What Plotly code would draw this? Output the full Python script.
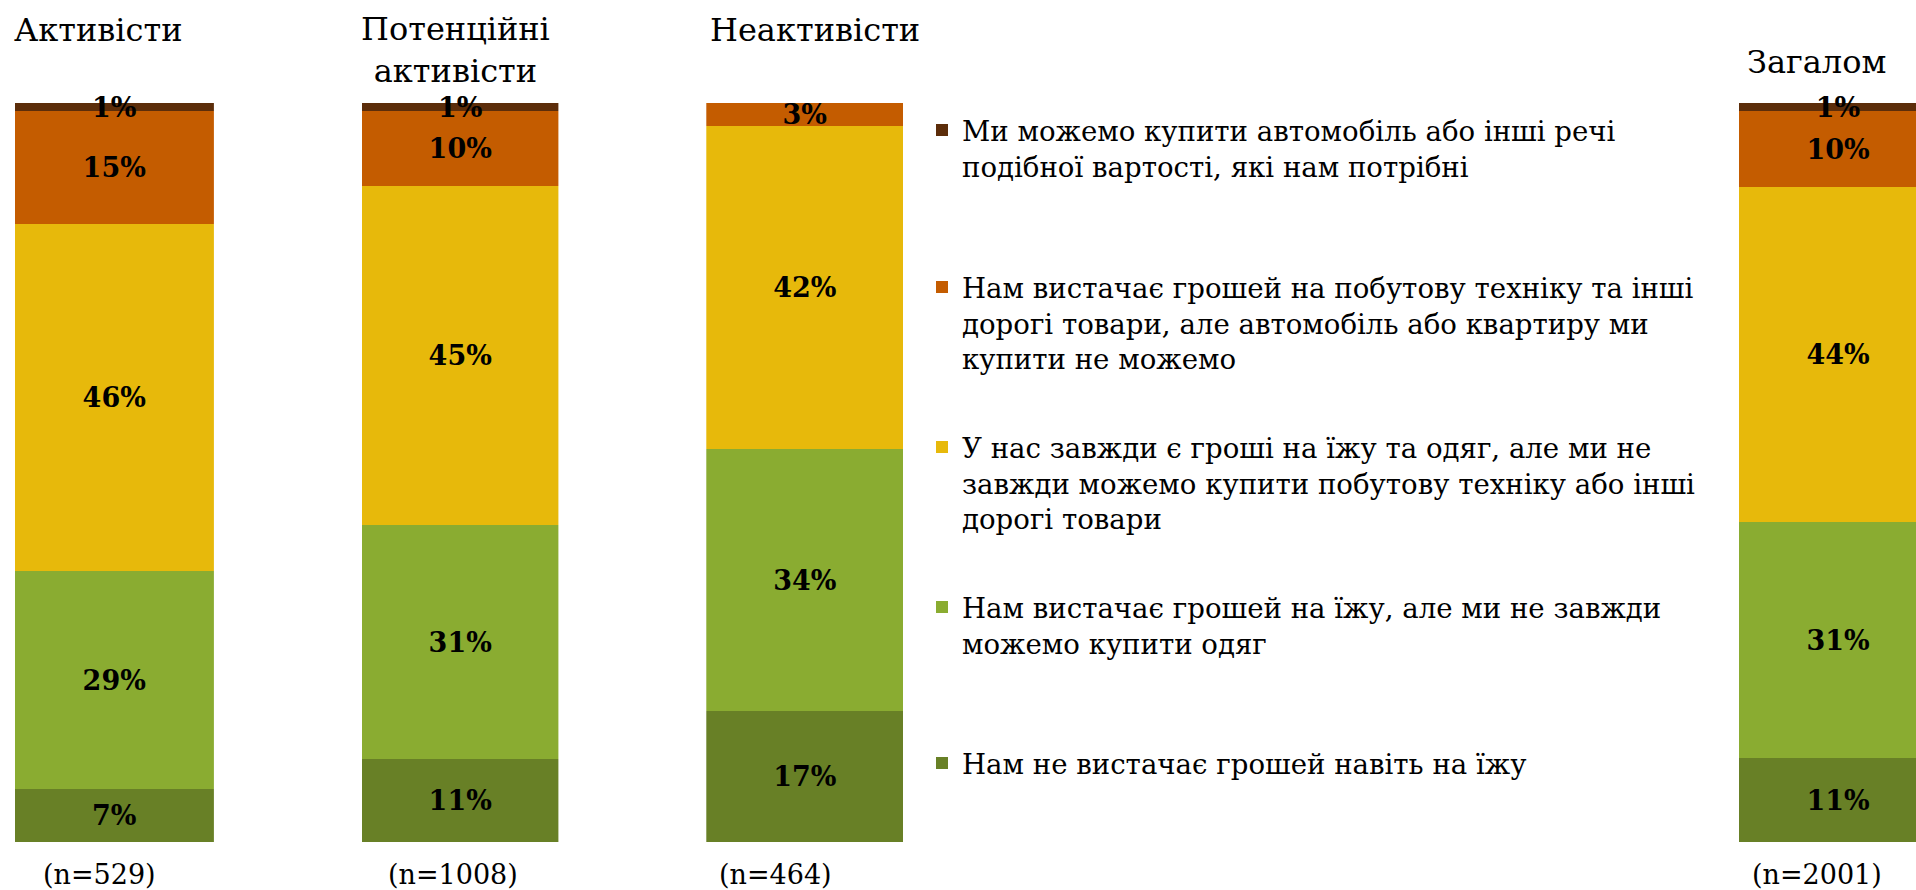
import plotly.graph_objects as go

W, H = 1916, 890

groups = ["Активісти", "Потенційні активісти", "Неактивісти", "Загалом"]
group_titles = ["Активісти", "Потенційні<br>активісти", "Неактивісти", "Загалом"]
n_labels = ["(n=529)", "(n=1008)", "(n=464)", "(n=2001)"]

# series, bottom to top of each stack
series_names = [
    "Нам не вистачає грошей навіть на їжу",
    "Нам вистачає грошей на їжу, але ми не завжди<br>можемо купити одяг",
    "У нас завжди є гроші на їжу та одяг, але ми не<br>завжди можемо купити побутову техніку або інші<br>дорогі товари",
    "Нам вистачає грошей на побутову техніку та інші<br>дорогі товари, але автомобіль або квартиру ми<br>купити не можемо",
    "Ми можемо купити автомобіль або інші речі<br>подібної вартості, які нам потрібні",
]
v_no_food = [7, 11, 17, 11]
v_food_only = [29, 31, 34, 31]
v_food_clothes = [46, 45, 42, 44]
v_appliances = [15, 10, 3, 10]
v_car = [1, 1, 0, 1]
series_values = [v_no_food, v_food_only, v_food_clothes, v_appliances, v_car]

colors = ["#688026", "#8AAC31", "#E7B90B", "#C45C00", "#5C2D0A"]

FONT = "DejaVu Serif"

# pixel layout of each bar (left, right) in the page
bar_px = [(14.7, 213.9), (361.7, 558.4), (706.3, 903.0), (1739.0, 1937.0)]
y_top_px, y_bot_px = 103, 842

fig = go.Figure()

axis_names = ["x", "x2", "x3", "x4"]
for si, (name, vals, col) in enumerate(zip(series_names, series_values, colors)):
    legend_id = "legend" if si == 4 else f"legend{5 - si}"
    for gi, g in enumerate(groups):
        v = vals[gi]
        fig.add_trace(go.Bar(
            x=[g], y=[v],
            xaxis=axis_names[gi], yaxis="y",
            name=name,
            legend=legend_id,
            showlegend=(gi == 0),
            marker=dict(color=col, line=dict(width=0)),
            width=1,
            text=[f"{v}%" if v > 0 else ""],
            textposition="inside",
            insidetextanchor="middle",
            textangle=0,
            cliponaxis=False,
            textfont=dict(family=FONT, size=27, color="black", weight="bold"),
            insidetextfont=dict(family=FONT, size=27, color="black", weight="bold"),
            hovertemplate=f"{g}: {v}%<extra></extra>",
        ))

layout_axes = {}
for gi, (l, r) in enumerate(bar_px):
    key = "xaxis" if gi == 0 else f"xaxis{gi + 1}"
    if r <= W:
        dom = [l / W, r / W]
        rng = [-0.5, 0.5]
    else:
        dom = [l / W, 1.0]
        rng = [-0.5, -0.5 + (W - l) / (r - l)]
    layout_axes[key] = dict(domain=dom, range=rng, visible=False, anchor="y",
                            fixedrange=True)

fig.update_layout(**layout_axes)
fig.update_layout(
    yaxis=dict(domain=[1 - y_bot_px / H, 1 - y_top_px / H], range=[0, 100],
               visible=False, fixedrange=True),
    barmode="stack",
    barnorm="percent",
    bargap=0,
    width=W, height=H,
    margin=dict(l=0, r=0, t=0, b=0),
    paper_bgcolor="white",
    plot_bgcolor="white",
    uniformtext=dict(minsize=27, mode="show"),
    font=dict(family=FONT, color="black"),
)

# legends: one per series, placed individually (first-line center px, n lines)
legend_pos = {
    "legend": (130, 2),
    "legend2": (287, 3),
    "legend3": (447, 3),
    "legend4": (607, 2),
    "legend5": (763, 1),
}
line_h = 36
for key, (first_center, nlines) in legend_pos.items():
    center = first_center + (nlines - 1) * line_h / 2
    fig.update_layout({key: dict(
        x=922 / W, xanchor="left",
        y=1 - center / H, yanchor="middle",
        valign="top",
        bgcolor="rgba(0,0,0,0)",
        borderwidth=0,
        font=dict(family=FONT, size=27.6, color="black"),
        traceorder="normal",
    )})

# group titles
title_specs = [
    (12, 30, "left", "middle"),
    (455, 50, "center", "middle"),
    (708, 30, "left", "middle"),
    (1745, 62, "left", "middle"),
]
for t, (px, py, xa, ya) in zip(group_titles, title_specs):
    fig.add_annotation(text=t, x=px / W, y=1 - py / H, xref="paper", yref="paper",
                       xanchor=xa, yanchor=ya, showarrow=False, align="center",
                       font=dict(family=FONT, size=32, color="black"))

n_x = [99, 453, 775, 1817]
for t, px in zip(n_labels, n_x):
    fig.add_annotation(text=t, x=px / W, y=1 - 874 / H, xref="paper", yref="paper",
                       xanchor="center", yanchor="middle", showarrow=False,
                       font=dict(family=FONT, size=27, color="black"))

fig.write_html("out.html",
               config={"displayModeBar": False},
               post_script="document.body.style.margin='0';document.body.style.overflow='hidden';")
